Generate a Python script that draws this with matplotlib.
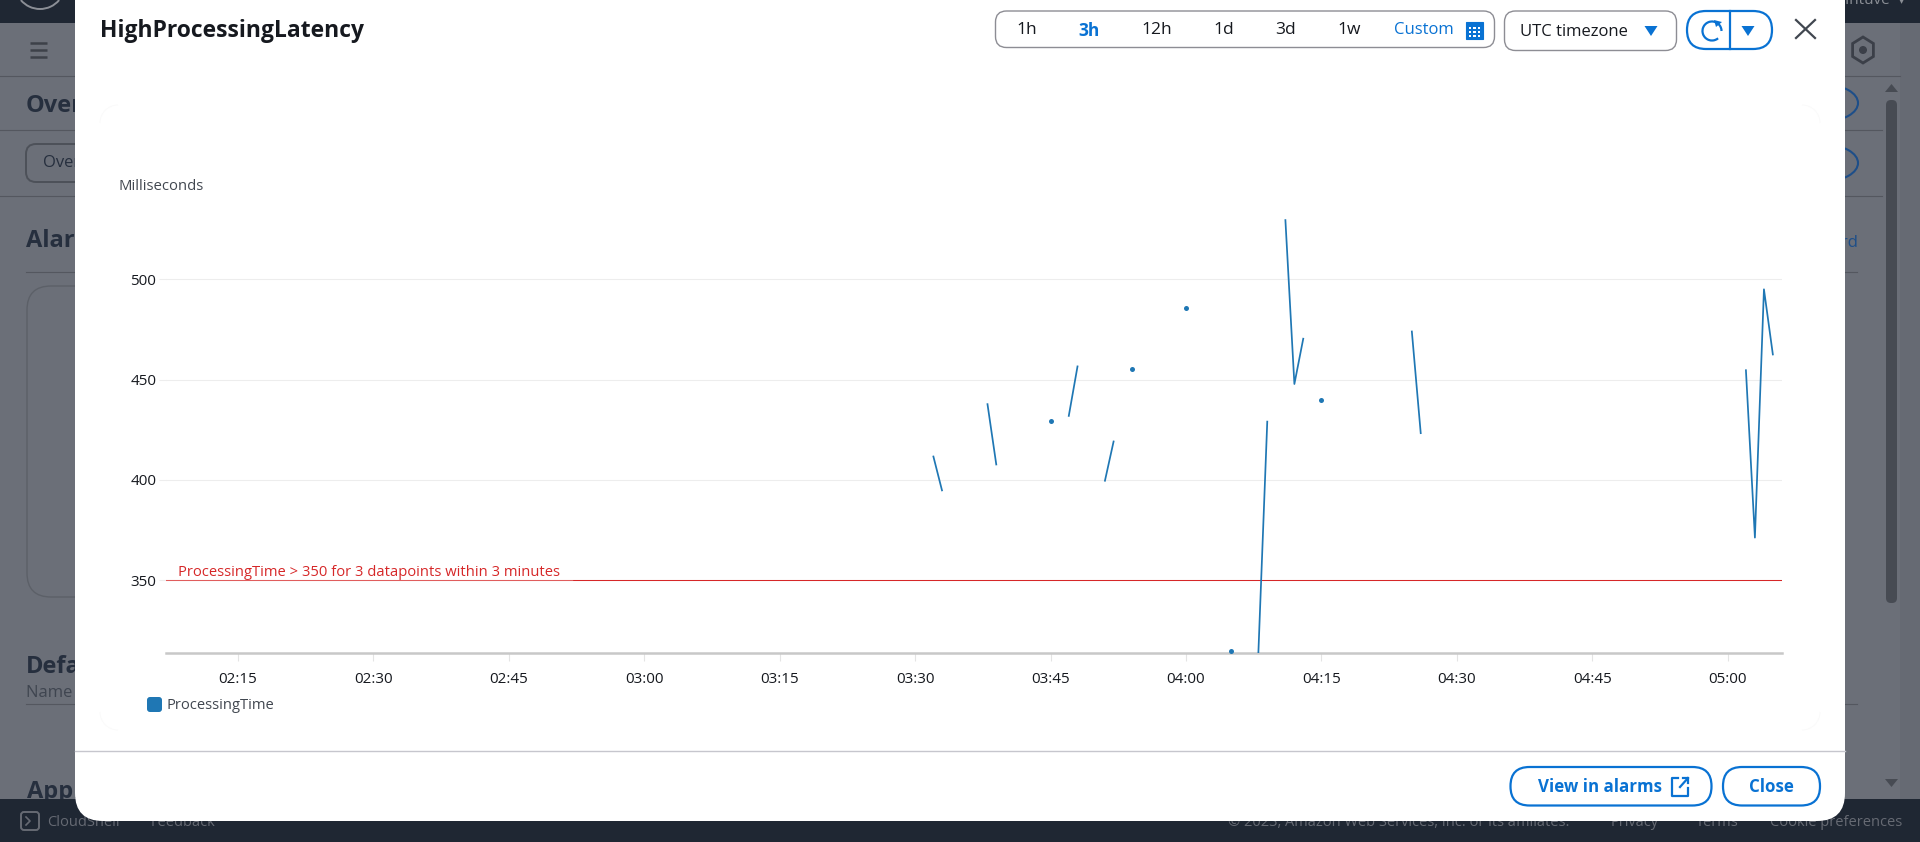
#!/usr/bin/env python3
"""Recreate the HighProcessingLatency alarm dialog with its metric chart."""

import numpy as np
import matplotlib

matplotlib.use("Agg")
import matplotlib.pyplot as plt
from matplotlib.patches import Arc, Circle, FancyBboxPatch, Polygon, Rectangle

plt.rcParams["font.family"] = ["Open Sans", "Noto Sans", "DejaVu Sans"]

# Metric data, HH:MM in UTC; consecutive minutes are joined, others stand alone
TIMES = [
    "03:32", "03:33", "03:38", "03:39", "03:45", "03:47", "03:48", "03:51",
    "03:52", "03:54", "04:00", "04:05", "04:08", "04:09", "04:11", "04:12",
    "04:13", "04:15", "04:25", "04:26", "05:02", "05:03", "05:04", "05:05",
]
VALUES = [
    412.1, 394.4, 438.2, 407.3, 429.2, 431.5, 457.0, 399.2,
    419.6, 455.1, 485.8, 315.0, 312.5, 429.5, 529.9, 447.8,
    470.8, 439.7, 474.4, 422.9, 455.1, 371.3, 495.0, 462.1,
]
THRESHOLD = 350
THRESHOLD_LABEL = "ProcessingTime > 350 for 3 datapoints within 3 minutes"
SERIES_NAME = "ProcessingTime"
X_TICKS = ["02:15", "02:30", "02:45", "03:00", "03:15", "03:30", "03:45",
           "04:00", "04:15", "04:30", "04:45", "05:00"]
Y_TICKS = [350, 400, 450, 500]
RANGE_LABELS = ["1h", "3h", "12h", "1d", "3d", "1w"]

BLUE = "#0972d3"
LINE_BLUE = "#1f77b4"
RED = "#d62728"
PAGE_TEXT = "#262f3e"
PAGE_GREY = "#6b6f78"
PAGE_LINE = "#54575f"
BAR_DARK = "#1f2733"
BAR_TEXT = "#666a73"


def to_minutes(label):
    hours, minutes = label.split(":")
    return int(hours) * 60 + int(minutes)


def round_box(ax, x0, y0, x1, y1, radius, **kwargs):
    box = FancyBboxPatch((x0, y0), x1 - x0, y1 - y0,
                         boxstyle=f"round,pad=0,rounding_size={radius}", **kwargs)
    ax.add_patch(box)
    return box


def pixel_axes(fig):
    """Full-figure axes measured in image pixels, for the page furniture."""
    ax = fig.add_axes([0, 0, 1, 1])
    ax.set_xlim(0, 1920)
    ax.set_ylim(842, 0)
    ax.axis("off")
    return ax


def draw_page(ax):
    """The dimmed console page behind the dialog."""
    ax.add_patch(Rectangle((0, 0), 1920, 842, fc=PAGE_GREY, ec="none"))
    ax.add_patch(Rectangle((1900, 23), 20, 776, fc="#666a73", ec="none"))
    ax.add_patch(Rectangle((0, 0), 1920, 23, fc=BAR_DARK, ec="none"))

    ax.add_patch(Arc((40, -16), 50, 50, theta1=40, theta2=140, ec="#8b8f96", lw=1.4))
    ax.text(1845, 1, "Intuve  ▾", color="#8b8f96", fontsize=11, ha="left", va="center")

    for y in (43, 50, 57):
        ax.plot([30, 47], [y, y], color="#3d4149", lw=1.8, solid_capstyle="butt")

    hexagon_x = 1863 + 12 * np.sin(np.arange(6) * np.pi / 3)
    hexagon_y = 50 + 13 * np.cos(np.arange(6) * np.pi / 3)
    ax.add_patch(Polygon(np.column_stack([hexagon_x, hexagon_y]), closed=True,
                         fc="none", ec="#3b3f48", lw=2))
    ax.add_patch(Circle((1863, 50), 4, fc="#3b3f48", ec="none"))

    ax.plot([0, 1900], [76, 76], color=PAGE_LINE, lw=0.8)
    ax.plot([0, 1882], [130, 130], color=PAGE_LINE, lw=0.8)
    ax.plot([0, 1882], [196, 196], color=PAGE_LINE, lw=0.8)
    ax.plot([26, 1857], [272, 272], color=PAGE_LINE, lw=0.8)
    ax.plot([26, 1857], [704, 704], color=PAGE_LINE, lw=0.8)

    ax.text(26, 106, "Overview", color=PAGE_TEXT, fontsize=17, fontweight="bold", va="center")
    round_box(ax, 26, 144, 300, 182, 10, fc="none", ec="#4d5159", lw=1.4)
    ax.text(43, 163, "Overview", color=PAGE_TEXT, fontsize=12, va="center")
    ax.text(26, 241, "Alarms", color=PAGE_TEXT, fontsize=17, fontweight="bold", va="center")
    round_box(ax, 27, 286, 500, 597, 24, fc="none", ec="#5c6068", lw=1)
    ax.text(26, 667, "Default", color=PAGE_TEXT, fontsize=17, fontweight="bold", va="center")
    ax.text(26, 693, "Name and", color="#3f4550", fontsize=12, va="center")
    ax.text(27, 792, "Applied", color=PAGE_TEXT, fontsize=17, fontweight="bold", va="center")

    ax.add_patch(Arc((1826, 103), 64, 36, theta1=-90, theta2=90, ec="#1d4e89", lw=1.5))
    ax.add_patch(Arc((1826, 163), 64, 36, theta1=-90, theta2=90, ec="#1d4e89", lw=1.5))
    ax.text(1858, 243, "Add to dashboard", color="#1d4e89", fontsize=12, ha="right", va="center")

    round_box(ax, 1886, 100, 1897, 603, 5, fc="#474b53", ec="none")
    ax.add_patch(Polygon([(1885, 92), (1898, 92), (1891.5, 84)], fc="#474b53", ec="none"))
    ax.add_patch(Polygon([(1885, 779), (1898, 779), (1891.5, 787)], fc="#474b53", ec="none"))

    # Bottom bar goes over the clipped page heading
    ax.add_patch(Rectangle((0, 799), 1920, 43, fc=BAR_DARK, ec="none", zorder=5))
    round_box(ax, 21, 812, 39, 830, 3, fc="none", ec=BAR_TEXT, lw=1.4, zorder=6)
    ax.plot([26, 30, 26], [817, 821, 825], color=BAR_TEXT, lw=1.2, zorder=6)
    footer = dict(color=BAR_TEXT, fontsize=10.5, va="center", zorder=6)
    ax.text(47, 822, "CloudShell", **footer)
    ax.text(151, 822, "Feedback", **footer)
    ax.text(1228, 822, "© 2023, Amazon Web Services, Inc. or its affiliates.", **footer)
    for x, label in ((1635, "Privacy"), (1717, "Terms"), (1836, "Cookie preferences")):
        ax.text(x, 822, label, ha="center", **footer)


def draw_dialog(ax):
    """White dialog with its header controls and footer buttons."""
    round_box(ax, 75, -40, 1845, 821, 28, fc="white", ec="none")
    ax.plot([75, 1845], [751, 751], color="#c6c6cd", lw=1)

    # Faint corners of the chart panel
    for cx, cy, start in ((118, 123, 180), (1802, 123, 270), (118, 712, 90), (1802, 712, 0)):
        ax.add_patch(Arc((cx, cy), 36, 36, theta1=start, theta2=start + 90, ec="#fafafa", lw=0.7))

    ax.text(100, 31, "HighProcessingLatency", color="#16191f", fontsize=16.5,
            fontweight="bold", va="center")

    round_box(ax, 995.5, 11, 1494.5, 47.5, 11, fc="white", ec="#8d8d94", lw=1)
    for x, label in zip((1027, 1089, 1157, 1224, 1286, 1349.5), RANGE_LABELS):
        selected = label == "3h"
        ax.text(x, 30.5, label, color=BLUE if selected else "#16191f", fontsize=12.5,
                fontweight="bold" if selected else "normal", ha="center", va="center")
    ax.text(1423.5, 30.5, "Custom", color=BLUE, fontsize=12, ha="center", va="center")
    ax.add_patch(Rectangle((1466, 22), 17, 17, fc=BLUE, ec=BLUE, lw=0.8))
    for px in (1470, 1474.5, 1479):
        for py in (28, 32, 36):
            ax.add_patch(Rectangle((px - 1.2, py - 1.2), 2.4, 2.4, fc="white", ec="none"))

    round_box(ax, 1504.5, 11, 1676.5, 50.5, 11, fc="white", ec="#8d8d94", lw=1)
    ax.text(1520, 32, "UTC timezone", color="#16191f", fontsize=12, va="center")
    ax.add_patch(Polygon([(1644.5, 26), (1657.5, 26), (1651, 36)], fc=BLUE, ec="none"))

    round_box(ax, 1687, 11, 1772, 49, 19, fc="white", ec=BLUE, lw=1.6)
    ax.plot([1730, 1730], [11, 49], color=BLUE, lw=1.6)
    ax.add_patch(Arc((1712, 31), 19, 19, theta1=-310, theta2=0, ec=BLUE, lw=1.6))
    ax.add_patch(Polygon([(1714, 20), (1722, 22), (1716, 27)], fc=BLUE, ec="none"))
    ax.add_patch(Polygon([(1741.5, 26), (1754.5, 26), (1748, 36)], fc=BLUE, ec="none"))

    ax.plot([1796, 1815], [20, 38], color="#414750", lw=1.6)
    ax.plot([1796, 1815], [38, 20], color="#414750", lw=1.6)

    round_box(ax, 1510.5, 767, 1711.5, 805.5, 19, fc="white", ec=BLUE, lw=1.6)
    ax.text(1538, 787, "View in alarms", color=BLUE, fontsize=12.2, fontweight="bold", va="center")
    ax.plot([1678, 1672, 1672, 1688, 1688], [778, 778, 796, 796, 788], color=BLUE, lw=1.6)
    ax.plot([1680, 1688], [787, 778], color=BLUE, lw=1.6)
    ax.plot([1683, 1688, 1688], [778, 778, 783], color=BLUE, lw=1.6)
    round_box(ax, 1723, 767, 1820, 805.5, 19, fc="white", ec=BLUE, lw=1.6)
    ax.text(1771, 787, "Close", color=BLUE, fontsize=12.2, fontweight="bold",
            ha="center", va="center")

    ax.text(118, 187, "Milliseconds", color="#414750", fontsize=10.7, va="center")
    round_box(ax, 147, 697, 162, 712, 3, fc=LINE_BLUE, ec="none")
    ax.text(167, 705.5, SERIES_NAME, color="#414750", fontsize=10.6, va="center")


def draw_chart(ax, minutes, values):
    ax.set_facecolor("none")
    ax.set_xlim(127.04, 306.0)
    ax.set_ylim(313.8, 534.5)

    # Gaps in the minutes split the series into runs; a lone value is a dot
    runs = np.split(np.arange(len(minutes)), np.where(np.diff(minutes) > 1)[0] + 1)
    for run in runs:
        if len(run) == 1:
            ax.plot(minutes[run], values[run], "o", color=LINE_BLUE, ms=3.6, mew=0, zorder=4)
        else:
            ax.plot(minutes[run], values[run], "-", color=LINE_BLUE, lw=1.25,
                    solid_capstyle="butt", zorder=4)

    ax.axhline(THRESHOLD, color=RED, lw=0.75, zorder=3)
    ax.annotate(THRESHOLD_LABEL, xy=(0, THRESHOLD), xycoords=("axes fraction", "data"),
                xytext=(12, 8), textcoords="offset pixels", color=RED, fontsize=10.65, va="center")
    ax.plot([0, 406 / 1616], [THRESHOLD, THRESHOLD], color="#ffffff", alpha=0.25, lw=1,
            transform=ax.get_yaxis_transform(), zorder=3.5)

    ax.set_xticks([to_minutes(t) for t in X_TICKS], labels=X_TICKS)
    ax.set_yticks(Y_TICKS)
    ax.grid(axis="y", color="#ededed", lw=0.8, zorder=1)
    ax.set_axisbelow(True)
    ax.tick_params(axis="x", length=5.5, width=0.8, color="#e4e4e4", pad=8,
                   labelsize=11, labelcolor="#16191f")
    ax.tick_params(axis="y", length=5, width=0.8, color="#ededed", pad=2,
                   labelsize=11, labelcolor="#16191f")
    for side in ("top", "right", "left"):
        ax.spines[side].set_visible(False)
    ax.spines["bottom"].set_color("#c8c8c8")
    ax.spines["bottom"].set_linewidth(1.8)


def main():
    fig = plt.figure(figsize=(19.2, 8.42), dpi=100)

    draw_page(pixel_axes(fig))
    draw_dialog(pixel_axes(fig))

    chart = fig.add_axes([166 / 1920, (842 - 653) / 842, 1616 / 1920, (653 - 210) / 842])
    minutes = np.array([to_minutes(t) for t in TIMES])
    draw_chart(chart, minutes, np.array(VALUES))

    fig.savefig("out.png", dpi=100)
    plt.close(fig)


if __name__ == "__main__":
    main()
